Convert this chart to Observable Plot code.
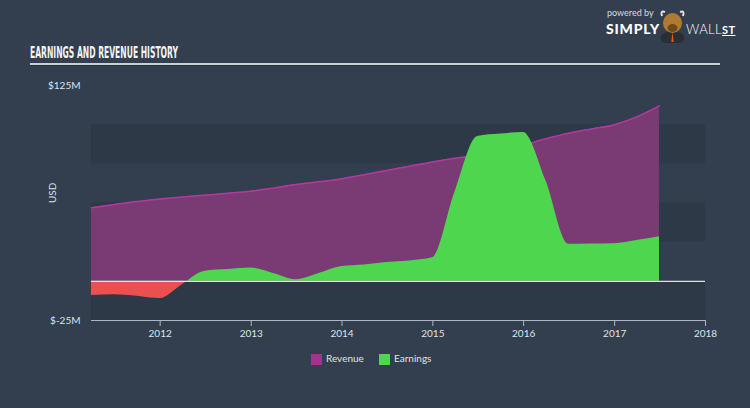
<!DOCTYPE html>
<html>
<head>
<meta charset="utf-8">
<script src="https://cdn.jsdelivr.net/npm/d3@7"></script>
<script src="https://cdn.jsdelivr.net/npm/@observablehq/plot@0.6"></script>
<style>
  html, body { margin: 0; padding: 0; background: #333f4e; }
  body { width: 750px; height: 408px; overflow: hidden; position: relative; font-family: Lato, "Open Sans", sans-serif; }
  #header { position: relative; height: 70px; }
  #title { position: absolute; left: 30px; top: 43px; font-family: "DejaVu Sans Condensed", "DejaVu Sans"; font-weight: bold; font-size: 16px; color: #f2f4f6; white-space: nowrap; transform-origin: left top; }
  #rule { position: absolute; left: 30px; top: 63px; width: 690px; height: 1.5px; background: #c9d0d8; box-shadow: 0 1px 0 #22303c; }
  #logo { position: absolute; left: 606px; top: 7px; color: #fff; }
  #logo .pb { position: absolute; left: 1px; top: 0px; font-size: 9px; color: #d6dbe0; white-space: nowrap; }
  #logo .s { position: absolute; left: 0px; top: 13px; font-size: 14px; font-weight: 900; letter-spacing: 0.8px; white-space: nowrap; }
  #logo .w { position: absolute; left: 80px; top: 14px; font-size: 13px; font-weight: 300; letter-spacing: 0.4px; white-space: nowrap; }
  #logo .w u { font-weight: 700; font-size: 11px; }
  #chart { position: relative; height: 275px; }
  #legend { position: absolute; left: 0; top: 350px; width: 750px; height: 16px; font-size: 10px; color: #dfe3e8; }
  .sw { position: absolute; top: 4px; width: 11px; height: 11px; }
  .lt { position: absolute; top: 2px; white-space: nowrap; }
</style>
</head>
<body>
<div id="header">
  <div id="title">EARNINGS AND REVENUE HISTORY</div>
  <div id="rule"></div>
  <div id="logo">
    <div class="pb">powered by</div>
    <div class="s">SIMPLY</div>
    <svg style="position:absolute;left:53px;top:2px" width="27" height="34">
      <ellipse cx="13.5" cy="29" rx="12" ry="7" fill="#2a2f36"/>
      <path d="M3 7 Q1 1 6 3 M24 7 Q26 1 21 3" stroke="#e8e0d0" stroke-width="2" fill="none"/>
      <ellipse cx="13.5" cy="14" rx="9.5" ry="10" fill="#b07a32"/>
      <ellipse cx="13.5" cy="19" rx="5" ry="4" fill="#6b4a22"/>
      <path d="M13.5 23 L12.3 33 L14.7 33 Z" fill="#e05a20"/>
    </svg>
    <div class="w">WALL<u>ST</u></div>
  </div>
</div>
<div id="chart"></div>
<div id="legend">
  <div class="sw" style="left:311px;background:#a0348f"></div><div class="lt" style="left:326px">Revenue</div>
  <div class="sw" style="left:379px;background:#4fd64f"></div><div class="lt" style="left:394px">Earnings</div>
</div>
<script>
// ---- data (USD millions), quarter ends ----
const dates = ["2011-03-31","2011-06-30","2011-09-30","2011-12-31",
  "2012-03-31","2012-06-30","2012-09-30","2012-12-31",
  "2013-03-31","2013-06-30","2013-09-30","2013-12-31",
  "2014-03-31","2014-06-30","2014-09-30","2014-12-31",
  "2015-03-31","2015-06-30","2015-09-30","2015-12-31",
  "2016-03-31","2016-06-30","2016-09-30","2016-12-31",
  "2017-03-31","2017-06-30"];
const revenue = [47, 49, 51, 52.5,
  53.8, 55, 56.2, 57.5,
  59.5, 61.8, 63.5, 65.5,
  68, 70.8, 73.5, 76.2,
  78.5, 80.5, 83.5, 87,
  91, 94.5, 97.3, 100,
  105, 112];
const earnings = [-9, -8.5, -9.5, -11,
  -2, 6.5, 7.5, 8.5,
  5, 1, 5, 9.5,
  10.5, 12, 13, 15,
  57, 92.5, 94, 95,
  64, 23.6, 23.8, 24,
  26, 28.5];
const yTickValues = [-25, 125];
const xTickYears = ["2012","2013","2014","2015","2016","2017","2018"];
const bandLow = [-25, 25, 75];
const bandHigh = [0, 50, 100];

const data = dates.map((d, i) => ({date: new Date(d), revenue: revenue[i], earnings: earnings[i]}));
const bands = bandLow.map((lo, i) => ({lo, hi: bandHigh[i]}));
const xTicks = xTickYears.map(y => new Date(y + "-01-01"));

const plot = Plot.plot({
  width: 750,
  height: 275,
  marginLeft: 91,
  marginRight: 45,
  marginTop: 15,
  marginBottom: 25,
  style: {background: "transparent", fontFamily: "Lato, 'Open Sans', sans-serif", fontSize: "10px", color: "#dfe3e8"},
  x: {type: "utc", domain: [new Date("2011-03-31"), new Date("2018-01-01")]},
  y: {domain: [-25, 125]},
  marks: [
    Plot.rect(bands, {y1: "lo", y2: "hi", fill: "#2d3947"}),
    Plot.areaY(data, {x: "date", y1: 0, y2: "revenue", fill: "#7a3a74", curve: "monotone-x"}),
    Plot.lineY(data, {x: "date", y: "revenue", stroke: "#b4399f", strokeWidth: 1.5, curve: "monotone-x"}),
    Plot.areaY(data, {x: "date", y1: 0, y2: "earnings", fill: "#4fd64f", curve: "monotone-x", ariaDescription: "earnings"}),
    Plot.ruleY([0], {stroke: "#dde2e7", strokeWidth: 1.2}),
    Plot.ruleY([-25], {stroke: "#aeb7c2", strokeWidth: 1.2}),
    Plot.axisX({ticks: xTicks, tickFormat: d3.utcFormat("%Y"), tickSize: 6, tickPadding: 3, stroke: "#aeb7c2", fill: "#dfe3e8", label: null}),
    Plot.axisY({ticks: yTickValues, tickFormat: d => "$" + d + "M", tickSize: 0, tickPadding: 11, fill: "#dfe3e8", label: null}),
    Plot.text(["USD"], {frameAnchor: "left", dx: -39, rotate: -90, fill: "#dfe3e8", fontSize: 10})
  ]
});
document.getElementById("chart").appendChild(plot);

// earnings fill: green above zero, red below (gradient split at the y scale's zero)
const svg = d3.select(plot);
const ys = plot.scale("y");
let y0 = (ys && typeof ys.apply === "function") ? ys.apply(0) : NaN;
if (!isFinite(y0)) {
  const r = ys.range, dmn = ys.domain;
  y0 = r[0] + (0 - dmn[0]) / (dmn[1] - dmn[0]) * (r[1] - r[0]);
}
const H = 275;
const defs = svg.insert("defs", ":first-child");
const grad = defs.append("linearGradient").attr("id", "earnGrad")
  .attr("gradientUnits", "userSpaceOnUse").attr("x1", 0).attr("y1", 0).attr("x2", 0).attr("y2", H);
grad.append("stop").attr("offset", y0 / H).attr("stop-color", "#4fd64f");
grad.append("stop").attr("offset", y0 / H).attr("stop-color", "#ea5050");
svg.selectAll('[aria-description="earnings"], [aria-description="earnings"] path').attr("fill", "url(#earnGrad)");

// fit condensed title width
const t = document.getElementById("title");
const w = t.getBoundingClientRect().width;
t.style.transform = "scaleX(" + (148 / w) + ")";
</script>
</body>
</html>
